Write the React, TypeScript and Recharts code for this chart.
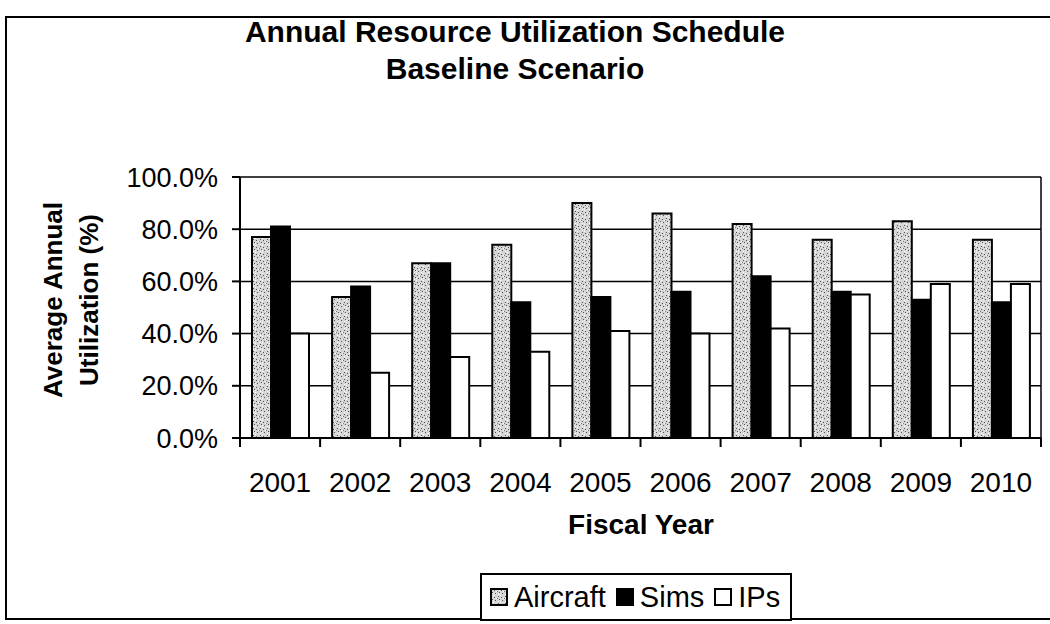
import React from 'react';
import { BarChart, Bar, XAxis, YAxis, CartesianGrid } from 'recharts';

const years = ['2001', '2002', '2003', '2004', '2005', '2006', '2007', '2008', '2009', '2010'];
const aircraft = [77, 54, 67, 74, 90, 86, 82, 76, 83, 76];
const sims = [81, 58, 67, 52, 54, 56, 62, 56, 53, 52];
const ips = [40, 25, 31, 33, 41, 40, 42, 55, 59, 59];
const yTicks = [0, 20, 40, 60, 80, 100];

const W = 1050;
const H = 624;
const PLOT_LEFT = 240;
const PLOT_RIGHT = 9;
const PLOT_TOP = 177;
const PLOT_BOTTOM = 438;
const X_AXIS_H = 70;
const BAND = (W - PLOT_LEFT - PLOT_RIGHT) / years.length;

const FONT = '"Liberation Sans", Arial, sans-serif';

const data = years.map((year, i) => ({
  year,
  Aircraft: aircraft[i],
  Sims: sims[i],
  IPs: ips[i],
}));

// category labels sit well below the axis, tick marks go between categories (Excel style)
const YearTick = ({ x, payload, index }: any) => {
  const half = BAND / 2;
  return (
    <g>
      <line x1={x - half} x2={x - half} y1={PLOT_BOTTOM} y2={PLOT_BOTTOM + 9} stroke="#000" strokeWidth={2} />
      {index === years.length - 1 && (
        <line x1={x + half} x2={x + half} y1={PLOT_BOTTOM} y2={PLOT_BOTTOM + 9} stroke="#000" strokeWidth={2} />
      )}
      <text x={x} y={PLOT_BOTTOM + 54} textAnchor="middle" fontSize={28} fontFamily={FONT} fill="#000">
        {payload.value}
      </text>
    </g>
  );
};

const StippleDefs = ({ id, size }: { id: string; size: number }) => (
  <pattern id={id} width={size} height={size} patternUnits="userSpaceOnUse">
    <rect width={size} height={size} fill="#d6d6d6" />
    <rect x={1} y={1} width={1} height={1} fill="#555" />
    <rect x={4} y={2} width={1} height={1} fill="#555" />
    <rect x={2} y={4} width={1} height={1} fill="#555" />
    <rect x={5} y={5} width={1} height={1} fill="#555" />
    <rect x={0} y={3} width={1} height={1} fill="#777" />
    <rect x={3} y={0} width={1} height={1} fill="#fff" />
    <rect x={6} y={3} width={1} height={1} fill="#fff" />
    <rect x={1} y={6} width={1} height={1} fill="#fff" />
    <rect x={3} y={5} width={1} height={1} fill="#f4f4f4" />
  </pattern>
);

const Swatch = ({ fill }: { fill: string }) => (
  <svg width={18} height={18} style={{ marginRight: 6 }}>
    <defs>
      <StippleDefs id="stipple-legend" size={7} />
    </defs>
    <rect x={1} y={1} width={16} height={16} fill={fill} stroke="#000" strokeWidth={2} />
  </svg>
);

const LegendBox = () => (
  <div
    style={{
      position: 'absolute',
      left: 480,
      top: 573,
      border: '2px solid #000',
      padding: '4px 10px 4px 8px',
      fontFamily: FONT,
      fontSize: 29,
      lineHeight: '36px',
      whiteSpace: 'nowrap',
      background: '#fff',
      display: 'flex',
      alignItems: 'center',
    }}
  >
    <Swatch fill="url(#stipple-legend)" />
    <span style={{ marginRight: 10 }}>Aircraft</span>
    <Swatch fill="#000" />
    <span style={{ marginRight: 10 }}>Sims</span>
    <Swatch fill="#fff" />
    <span>IPs</span>
  </div>
);

export default function App() {
  return (
    <div style={{ position: 'absolute', left: 0, top: 0, width: W, height: H, overflow: 'hidden', background: '#fff' }}>
      <div
        style={{
          position: 'absolute',
          left: 5,
          top: 16,
          width: W + 20,
          height: 604,
          border: '2px solid #000',
          boxSizing: 'border-box',
        }}
      />
      <div
        style={{
          position: 'absolute',
          left: 0,
          top: 13,
          width: 1030,
          textAlign: 'center',
          fontFamily: FONT,
          fontWeight: 'bold',
          fontSize: 30,
          lineHeight: '37px',
        }}
      >
        Annual Resource Utilization Schedule
        <br />
        Baseline Scenario
      </div>
      <div
        style={{
          position: 'absolute',
          left: 71,
          top: 300,
          width: 260,
          transform: 'translate(-50%, -50%) rotate(-90deg)',
          textAlign: 'center',
          fontFamily: FONT,
          fontWeight: 'bold',
          fontSize: 26,
          lineHeight: '36px',
        }}
      >
        Average Annual
        <br />
        Utilization (%)
      </div>
      <div
        style={{
          position: 'absolute',
          left: 441,
          top: 508,
          width: 400,
          textAlign: 'center',
          fontFamily: FONT,
          fontWeight: 'bold',
          fontSize: 28,
          lineHeight: '34px',
        }}
      >
        Fiscal Year
      </div>
      <div style={{ position: 'absolute', left: 0, top: 0 }}>
        <BarChart
          width={W}
          height={H}
          data={data}
          margin={{ top: PLOT_TOP, right: PLOT_RIGHT, left: 0, bottom: H - PLOT_BOTTOM - X_AXIS_H }}
          barCategoryGap={12}
          barGap={0}
        >
          <defs>
            <StippleDefs id="stipple" size={7} />
          </defs>
          <CartesianGrid
            stroke="#000"
            strokeWidth={1.5}
            horizontal
            vertical
            verticalCoordinatesGenerator={({ offset }: any) => [offset.left + offset.width]}
          />
          <XAxis
            dataKey="year"
            height={X_AXIS_H}
            tickLine={false}
            axisLine={{ stroke: '#000', strokeWidth: 2 }}
            tick={<YearTick />}
            interval={0}
          />
          <YAxis
            width={PLOT_LEFT}
            domain={[0, 100]}
            ticks={yTicks}
            tickFormatter={(v: number) => `${v.toFixed(1)}%`}
            tickSize={8}
            tickMargin={14}
            tickLine={{ stroke: '#000', strokeWidth: 2 }}
            axisLine={{ stroke: '#000', strokeWidth: 2 }}
            tick={{ fill: '#000', fontSize: 27, fontFamily: FONT }}
          />
          <Bar dataKey="Aircraft" fill="url(#stipple)" stroke="#000" strokeWidth={2} isAnimationActive={false} />
          <Bar dataKey="Sims" fill="#000" stroke="#000" strokeWidth={2} isAnimationActive={false} />
          <Bar dataKey="IPs" fill="#fff" stroke="#000" strokeWidth={2} isAnimationActive={false} />
        </BarChart>
      </div>
      <LegendBox />
    </div>
  );
}
